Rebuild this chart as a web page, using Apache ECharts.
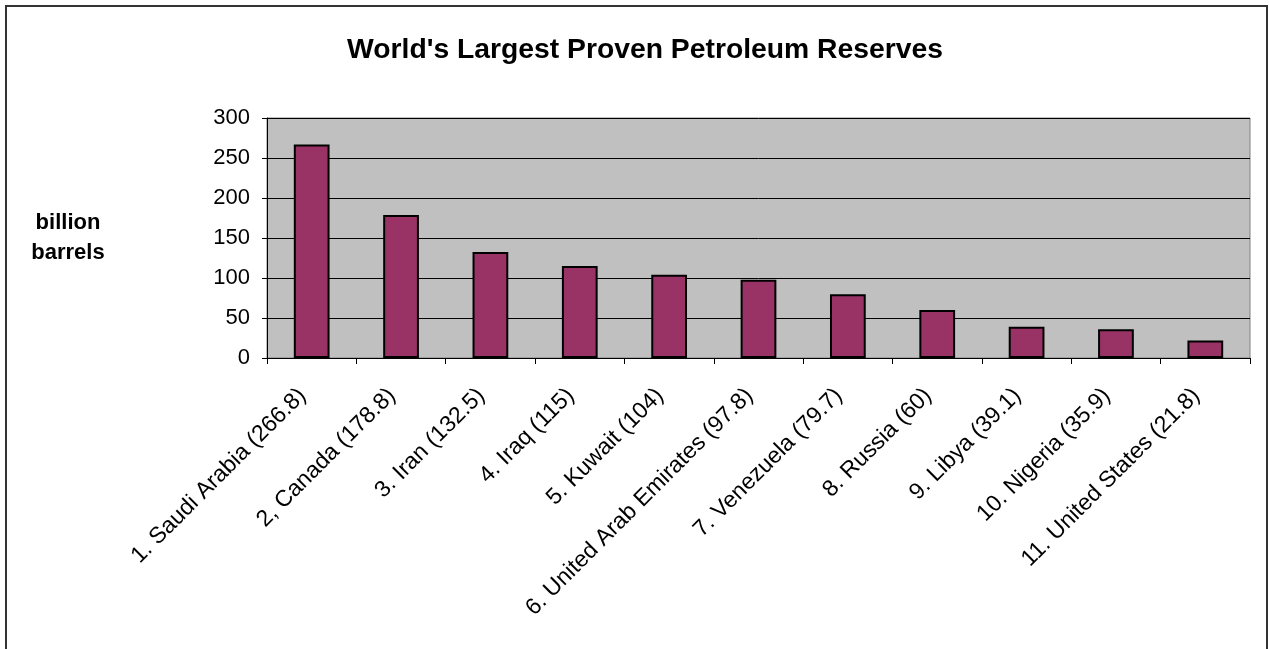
<!DOCTYPE html>
<html>
<head>
<meta charset="utf-8">
<script src="https://cdn.jsdelivr.net/npm/echarts@6/dist/echarts.min.js"></script>
<style>
html,body{margin:0;padding:0;background:#fff;}
#main{width:1269px;height:649px;}
</style>
</head>
<body>
<div id="main"></div>
<script>
const categories = ["1. Saudi Arabia (266.8)", "2, Canada (178.8)", "3. Iran (132.5)", "4. Iraq (115)", "5. Kuwait (104)", "6. United Arab Emirates (97.8)", "7. Venezuela (79.7)", "8. Russia (60)", "9. Libya (39.1)", "10. Nigeria (35.9)", "11. United States (21.8)"];
const reserves = [266.8, 178.8, 132.5, 115, 104, 97.8, 79.7, 60, 39.1, 35.9, 21.8];
const yTicks = [0, 50, 100, 150, 200, 250, 300];

const chart = echarts.init(document.getElementById('main'), null, {renderer: 'canvas'});
const font = '"Liberation Sans", Arial, sans-serif';
chart.setOption({
  animation: false,
  backgroundColor: '#ffffff',
  title: {
    text: "World's Largest Proven Petroleum Reserves",
    left: 640, top: 31, textAlign: 'center',
    textStyle: {fontFamily: font, fontSize: 28.3, fontWeight: 'bold', color: '#000'}
  },
  graphic: [{
    type: 'rect', silent: true,
    shape: {x: 6, y: 6, width: 1261, height: 700},
    style: {fill: 'none', stroke: '#333', lineWidth: 2}
  }],
  grid: {
    left: 267, right: 19, top: 118, bottom: 291,
    containLabel: false, outerBoundsMode: 'none',
    show: true, backgroundColor: '#c0c0c0', borderColor: '#808080', borderWidth: 1
  },
  xAxis: {
    type: 'category', data: categories, boundaryGap: true,
    axisLine: {lineStyle: {color: '#000', width: 1}},
    axisTick: {show: true, length: 6, lineStyle: {color: '#000'}},
    axisLabel: {rotate: 45, interval: 0, margin: 25, padding: [0, 13, 0, 0], fontFamily: font, fontSize: 23, color: '#000'}
  },
  yAxis: {
    type: 'value', min: yTicks[0], max: yTicks[yTicks.length - 1], interval: 50,
    name: 'billion\nbarrels', nameLocation: 'middle', nameRotate: 0, nameGap: 199,
    nameTextStyle: {fontFamily: font, fontSize: 22, fontWeight: 'bold', color: '#000', lineHeight: 30, align: 'center'},
    axisLine: {show: true, lineStyle: {color: '#000'}},
    axisTick: {show: true, length: 5, lineStyle: {color: '#000'}},
    splitLine: {show: true, lineStyle: {color: '#000', width: 1}},
    axisLabel: {fontFamily: font, fontSize: 22, color: '#000', margin: 17}
  },
  series: [{
    type: 'bar', data: reserves, barWidth: '40%',
    itemStyle: {color: '#993366', borderColor: '#000', borderWidth: 2}
  }]
});
</script>
</body>
</html>
